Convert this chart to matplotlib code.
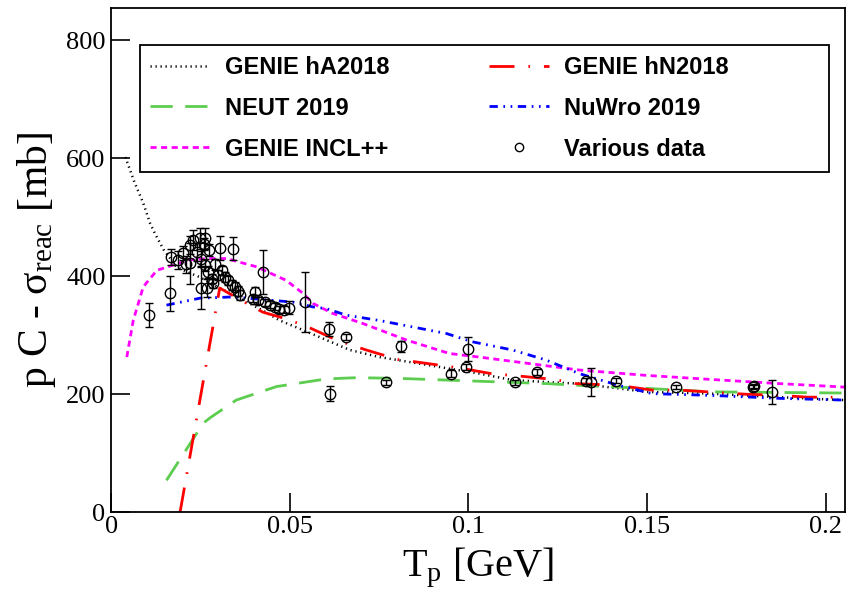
import matplotlib
matplotlib.use("Agg")
import matplotlib.pyplot as plt
from matplotlib.lines import Line2D
from matplotlib.patches import Rectangle

plt.rcParams["mathtext.fontset"] = "custom"
plt.rcParams["mathtext.rm"] = "Liberation Serif"
plt.rcParams["mathtext.it"] = "Liberation Serif:italic"
plt.rcParams["mathtext.bf"] = "Liberation Serif:bold"

# ----------------------------
# Data
# ----------------------------
ha_t = [0.004, 0.0065, 0.009, 0.0109, 0.0123, 0.0147, 0.0183, 0.021, 0.025, 0.0304,
        0.036, 0.043, 0.0472, 0.054, 0.0668, 0.0751, 0.0891, 0.103, 0.1123, 0.1235,
        0.131, 0.1497, 0.168, 0.187, 0.2055]
ha_xs = [602, 560, 524, 490, 472, 445, 416, 408, 398, 380,
         363, 340, 325, 308, 275, 263, 249, 235, 224, 220,
         218, 204, 201, 195, 190]

hn_t = [0.0193, 0.0304, 0.0379, 0.0425, 0.0472, 0.054, 0.063, 0.0714, 0.0802, 0.0886,
        0.098, 0.1063, 0.1156, 0.124, 0.130, 0.142, 0.1514, 0.159, 0.1776, 0.187,
        0.195, 0.2055]
hn_xs = [0, 380, 354, 339, 331, 317, 292, 275, 259, 252,
         244, 235, 230, 225, 218, 215, 207, 207, 200, 198,
         195, 195]

neut_t = [0.0155, 0.0258, 0.0277, 0.035, 0.0463, 0.0603, 0.0686, 0.0798, 0.0938, 0.1077,
          0.1217, 0.131, 0.1496, 0.168, 0.187, 0.2055]
neut_xs = [54, 151, 160, 190, 213, 226, 228, 227, 224, 221,
           218, 215, 210, 204, 203, 202]

incl_t = [0.0044, 0.0062, 0.009, 0.0128, 0.0174, 0.022, 0.0277, 0.0323, 0.0407, 0.049,
          0.0537, 0.0565, 0.062, 0.0704, 0.0826, 0.0947, 0.103, 0.117, 0.131, 0.1496,
          0.168, 0.187, 0.2055]
incl_xs = [263, 325, 382, 410, 419, 428, 430, 430, 416, 393,
           371, 354, 337, 320, 292, 269, 263, 252, 241, 232,
           225, 218, 212]

nuwro_t = [0.0155, 0.025, 0.0304, 0.034, 0.0416, 0.051, 0.0565, 0.0603, 0.0658, 0.0751,
           0.0844, 0.0938, 0.101, 0.1123, 0.1217, 0.131, 0.142, 0.1514, 0.168, 0.187,
           0.2055]
nuwro_xs = [351, 363, 364, 365, 361, 356, 348, 345, 334, 325,
            314, 303, 289, 275, 258, 235, 215, 201, 198, 193,
            190]

data_t = [0.0106, 0.0165, 0.0167, 0.0188, 0.0201, 0.0210, 0.0220, 0.0222, 0.0230, 0.0240,
          0.0249, 0.0253, 0.0253, 0.0260, 0.0263, 0.0263, 0.0267, 0.0271, 0.0275, 0.0281,
          0.0285, 0.0290, 0.0299, 0.0304, 0.0310, 0.0318, 0.0327, 0.0337, 0.0340, 0.0346,
          0.0355, 0.0360, 0.0396, 0.0402, 0.0411, 0.0424, 0.0430, 0.0444, 0.0458, 0.0470,
          0.0484, 0.0497, 0.0544, 0.0610, 0.0612, 0.0658, 0.0770, 0.0812, 0.0952, 0.0994,
          0.0998, 0.1131, 0.1192, 0.1330, 0.1343, 0.1413, 0.1582, 0.1796, 0.1800, 0.1850]
data_xs = [334, 371, 433, 427, 439, 420, 453, 422, 461, 441,
           464, 380, 430, 455, 464, 419, 380, 407, 445, 396,
           388, 420, 402, 448, 410, 399, 393, 385, 447, 382,
           375, 368, 362, 373, 359, 407, 356, 352, 348, 344,
           343, 347, 357, 311, 201, 297, 220, 281, 235, 246,
           277, 220, 238, 223, 221, 223, 212, 212, 214, 204]
data_err = [20, 30, 14, 15, 12, 15, 15, 35, 17, 15,
            17, 35, 12, 10, 17, 10, 15, 10, 10, 8,
            8, 10, 8, 21, 8, 8, 8, 8, 20, 8,
            8, 8, 6, 9, 6, 37, 6, 6, 6, 6,
            6, 11, 51, 12, 13, 5, 4, 10, 6, 5,
            20, 4, 5, 5, 24, 4, 4, 4, 4, 20]

# ----------------------------
# Figure
# ----------------------------
fig = plt.figure(figsize=(8.48, 6.04), dpi=100)
ax = fig.add_axes([0.131, 0.152, 0.866, 0.835])

ax.plot(ha_t, ha_xs, color="black", lw=1.8, linestyle=(0, (0.5, 1.5)),
        label="GENIE hA2018")
ax.plot(neut_t, neut_xs, color="#5ccd4f", lw=2.0, linestyle=(0, (8, 4.5)),
        label="NEUT 2019")
ax.plot(incl_t, incl_xs, color="#ff00ff", lw=2.0, linestyle=(0, (2.2, 1.6)),
        label="GENIE INCL++")
ax.plot(hn_t, hn_xs, color="#ff0000", lw=2.0, linestyle=(0, (9, 5, 0.6, 5)),
        label="GENIE hN2018")
ax.plot(nuwro_t, nuwro_xs, color="#0000ff", lw=2.0,
        linestyle=(0, (3, 2, 0.6, 2, 0.6, 2)), label="NuWro 2019")

ax.errorbar(data_t, data_xs, yerr=data_err, fmt="o", mfc="none", mec="black",
            ms=7.5, mew=1.0, ecolor="black", elinewidth=1.0, capsize=3, capthick=1.0,
            zorder=5)

ax.set_xlim(0, 0.2055)
ax.set_ylim(0, 855)
ax.set_xticks([0, 0.05, 0.1, 0.15, 0.2])
ax.set_xticklabels(["0", "0.05", "0.1", "0.15", "0.2"])
ax.set_yticks([0, 200, 400, 600, 800])

for lab in ax.get_xticklabels() + ax.get_yticklabels():
    lab.set_fontfamily("Liberation Serif")
    lab.set_fontsize(19)
ax.tick_params(direction="in", length=14, width=1.2, top=False, right=False)
ax.tick_params(axis="y", pad=4)
ax.tick_params(axis="x", pad=3)
for sp in ax.spines.values():
    sp.set_linewidth(1.3)

ax.set_xlabel(r"T$_{\mathrm{p}}$ [GeV]", fontfamily="Liberation Serif",
              fontsize=29, labelpad=5)
ax.set_ylabel(r"p C - σ$_{\mathrm{reac}}$ [mb]", fontfamily="Liberation Serif",
              fontsize=30, labelpad=6)

# legend box drawn separately, it is wider than its contents
ax.add_patch(Rectangle((0.0395, 0.6746), 0.9375, 0.252, transform=ax.transAxes,
                       facecolor="white", edgecolor="black", lw=1.3, zorder=9))

data_handle = Line2D([], [], linestyle="none", marker="o", mfc="none", mec="black",
                     ms=6, mew=1.0)
handles, labels = ax.get_legend_handles_labels()
handles = handles[:5] + [data_handle]
labels = labels[:5] + ["Various data"]
leg = ax.legend(handles, labels, ncol=2, loc="upper left",
                bbox_to_anchor=(0.0531, 0.905),
                prop={"family": "Liberation Sans", "weight": "bold", "size": 17},
                frameon=False, handlelength=2.55, handletextpad=0.64,
                labelspacing=0.76, columnspacing=4.2,
                borderpad=0, borderaxespad=0)
leg.set_zorder(10)

fig.savefig("out.png", dpi=100)
